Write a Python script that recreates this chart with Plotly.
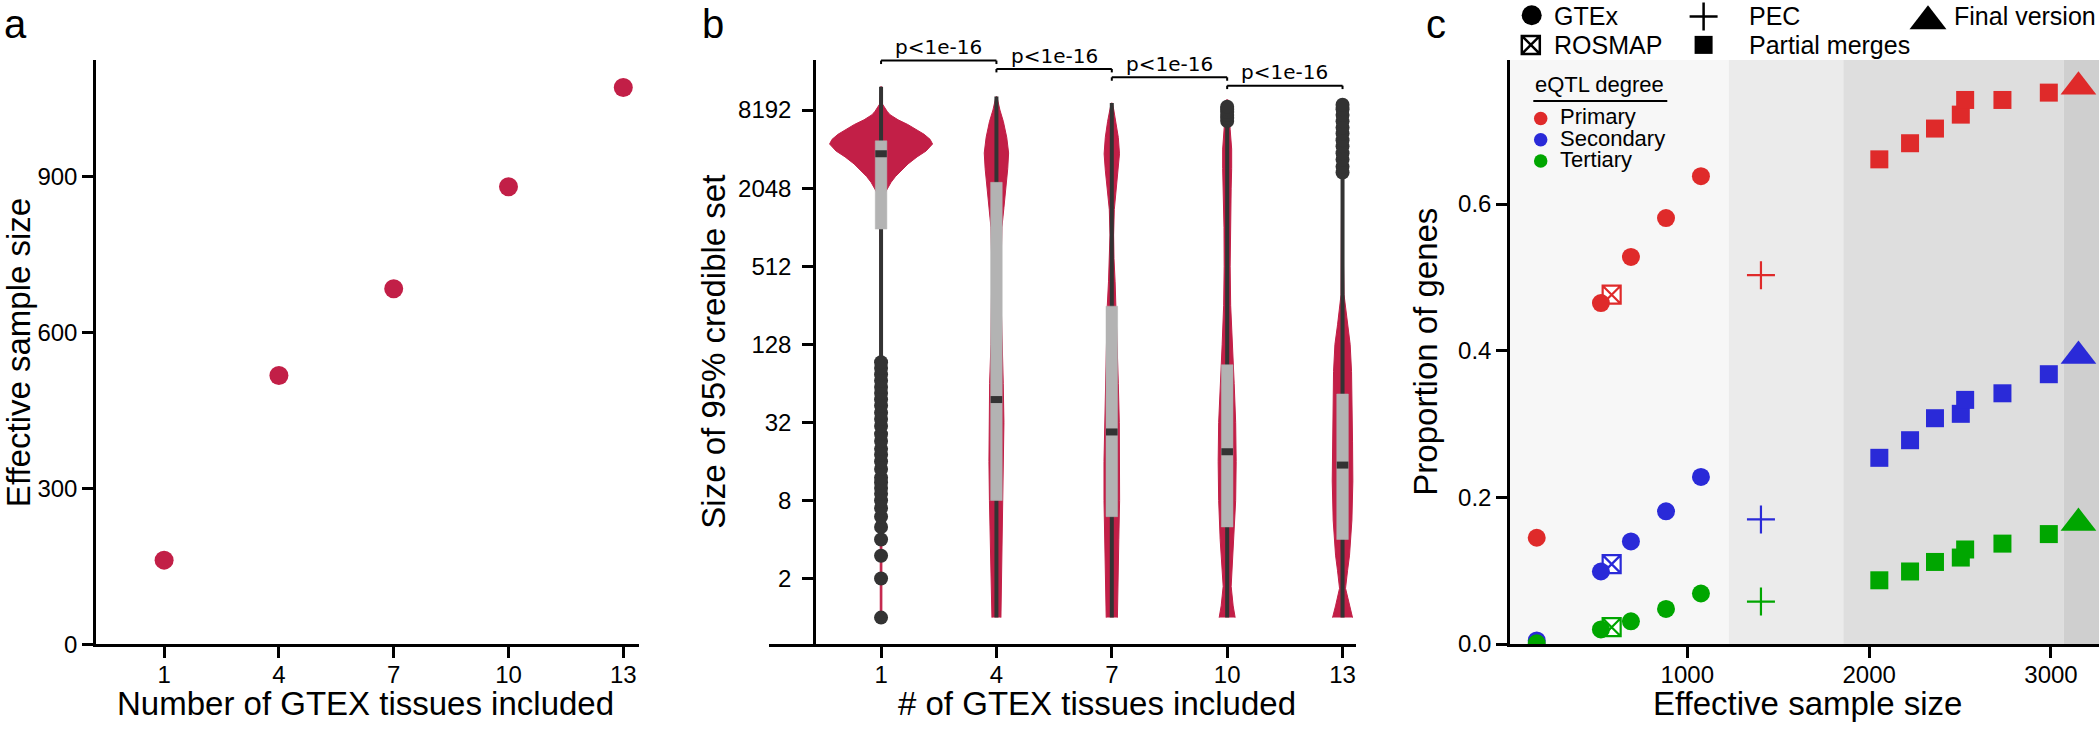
import plotly.graph_objects as go

W, H = 2100, 734

# ---------------- data ----------------
# panel a
tissue_counts = [1, 4, 7, 10, 13]
effective_n = [162, 517, 684, 880, 1071]

# panel b : violin outlines (log2 of credible-set size, half width in tissue-axis units)
violin_log2_levels = [
    [0, 2, 4, 6, 8, 9.5, 10.3, 10.7, 10.9, 11.0, 11.15, 11.3, 11.45, 11.62, 11.8, 11.95,
     12.13, 12.25, 12.38, 12.5, 12.63, 12.75, 12.88, 12.97, 13.05, 13.15, 13.6],
    [0, 0.5, 1, 2, 3, 4, 5, 6, 7, 8, 9, 10, 10.5, 11, 11.5, 11.9, 12.3, 12.7, 13.0, 13.34],
    [0, 1, 2, 3, 4, 5, 6, 7, 8, 8.6, 9.2, 9.8, 10.45, 11.04, 11.46, 11.88, 12.3, 12.71, 13.0, 13.18],
    [0, 0.3, 0.8, 1.3, 2, 3, 4, 5, 6, 7, 8, 9, 10, 11, 11.5, 12, 12.5, 13.26],
    [0, 0.3, 0.75, 1.2, 1.6, 2.5, 3.5, 4.5, 5.5, 6.3, 7, 7.5, 8.27, 9, 10, 11, 12, 13.2],
]
violin_halfwidth = [
    [0.021, 0.021, 0.021, 0.021, 0.023, 0.026, 0.042, 0.068, 0.117, 0.169, 0.26, 0.377, 0.52,
     0.702, 0.936, 1.17, 1.339, 1.274, 1.118, 0.91, 0.694, 0.442, 0.234, 0.156, 0.096, 0.039, 0.008],
    [0.117, 0.125, 0.135, 0.161, 0.182, 0.195, 0.195, 0.177, 0.143, 0.125, 0.12, 0.143, 0.195,
     0.247, 0.294, 0.317, 0.268, 0.182, 0.091, 0.013],
    [0.146, 0.156, 0.182, 0.203, 0.203, 0.195, 0.169, 0.143, 0.117, 0.086, 0.057, 0.047, 0.065,
     0.122, 0.169, 0.2, 0.169, 0.109, 0.052, 0.013],
    [0.208, 0.156, 0.104, 0.13, 0.182, 0.221, 0.234, 0.221, 0.182, 0.13, 0.091, 0.078, 0.083,
     0.104, 0.117, 0.117, 0.078, 0.026],
    [0.26, 0.182, 0.078, 0.13, 0.182, 0.244, 0.268, 0.26, 0.247, 0.234, 0.198, 0.13, 0.039,
     0.026, 0.026, 0.021, 0.021, 0.013],
]
box_q1 = [990, 8, 6, 5, 4]
box_median = [3770, 48, 27, 19, 15]
box_q3 = [4740, 2270, 252, 89, 53]
whisker_low = [96, 1, 1, 1, 1]
whisker_high = [12400, 10400, 9300, 6650, 2600]
outliers_1 = [1, 2, 3, 4, 5, 6, 7, 8, 9, 10, 11, 12, 14, 16, 18, 20, 23, 26, 30, 34, 38, 43,
              48, 54, 60, 67, 75, 84, 93]
outliers_10 = [6750, 7100, 7500, 7900, 8300, 8700]
outliers_13 = [2700, 3000, 3400, 3800, 4300, 4800, 5400, 6000, 6700, 7500, 8300, 9000]
pvalue_labels = ["p<1e-16", "p<1e-16", "p<1e-16", "p<1e-16"]

# panel c
degrees = ["Primary", "Secondary", "Tertiary"]
gtex_n = [172, 525, 690, 883, 1075]
gtex_prop = {
    "Primary": [0.145, 0.465, 0.528, 0.581, 0.638],
    "Secondary": [0.005, 0.099, 0.140, 0.181, 0.228],
    "Tertiary": [0.001, 0.020, 0.031, 0.048, 0.069],
}
rosmap_n = [584]
rosmap_prop = {"Primary": [0.4765], "Secondary": [0.109], "Tertiary": [0.023]}
pec_n = [1405]
pec_prop = {"Primary": [0.503], "Secondary": [0.170], "Tertiary": [0.058]}
merge_n = [2056, 2225, 2362, 2504, 2528, 2733, 2988]
merge_prop = {
    "Primary": [0.661, 0.683, 0.703, 0.722, 0.742, 0.742, 0.752],
    "Secondary": [0.254, 0.278, 0.308, 0.314, 0.333, 0.342, 0.368],
    "Tertiary": [0.087, 0.099, 0.112, 0.118, 0.129, 0.137, 0.150],
}
final_n = [3151]
final_prop = {"Primary": [0.760], "Secondary": [0.393], "Tertiary": [0.165]}
stage_edges = [1229, 1858, 3071]

# ---------------- style ----------------
FONT = "Liberation Sans, Arial, Helvetica, sans-serif"
CRIMSON = "#c21f47"
DARK = "#333333"
BOXGRAY = "#b3b3b3"
DEG_COLORS = {"Primary": "#df2a2a", "Secondary": "#2a2ad8", "Tertiary": "#00a600"}
STAGE_FILLS = ["#f7f7f7", "#ebebeb", "#dedede", "#cfcfcf"]


def fx(p):
    return p / W


def fy(p):
    return 1 - p / H


# subplot pixel boxes
A = dict(x0=96, x1=638.6, y0=61, y1=656)
B = dict(x0=769, x1=1356, y0=60.7, y1=656)
C = dict(x0=1510, x1=2099, y0=61, y1=655.7)

xa_range = [-0.78, 13.4]
ya_range = [0, 1124]
xb_range = [-1.914, 13.35]
yb_range = [-0.2064, 4.3021]  # log10
xc_range = [25, 3264]
yc_range = [0, 0.7966]

b_px_per_unit = (B["x1"] - B["x0"]) / (xb_range[1] - xb_range[0])
BOX_HALF = 5.8 / b_px_per_unit

fig = go.Figure()

# ---------------- panel a ----------------
fig.add_trace(go.Scatter(x=tissue_counts, y=effective_n, mode="markers",
                         marker=dict(size=19, color=CRIMSON, line=dict(width=0)),
                         xaxis="x", yaxis="y", showlegend=False, hoverinfo="x+y"))

# ---------------- panel b ----------------
for i, c in enumerate(tissue_counts):
    ys = [2 ** l for l in violin_log2_levels[i]]
    xr = [c + d for d in violin_halfwidth[i]]
    xl = [c - d for d in violin_halfwidth[i]]
    fig.add_trace(go.Scatter(x=xr + xl[::-1], y=ys + ys[::-1], mode="lines", fill="toself",
                             fillcolor=CRIMSON, line=dict(color=CRIMSON, width=1),
                             xaxis="x2", yaxis="y2", showlegend=False, hoverinfo="skip"))
for i, c in enumerate(tissue_counts):
    fig.add_trace(go.Scatter(x=[c, c], y=[whisker_low[i], whisker_high[i]], mode="lines",
                             line=dict(color=DARK, width=4), xaxis="x2", yaxis="y2",
                             showlegend=False, hoverinfo="skip"))
for i, c in enumerate(tissue_counts):
    fig.add_trace(go.Scatter(x=[c - BOX_HALF, c + BOX_HALF, c + BOX_HALF, c - BOX_HALF, c - BOX_HALF],
                             y=[box_q1[i], box_q1[i], box_q3[i], box_q3[i], box_q1[i]],
                             mode="lines", fill="toself", fillcolor=BOXGRAY,
                             line=dict(color=BOXGRAY, width=0.5), xaxis="x2", yaxis="y2",
                             showlegend=False, hoverinfo="skip"))
    fig.add_trace(go.Scatter(x=[c - BOX_HALF, c + BOX_HALF], y=[box_median[i], box_median[i]],
                             mode="lines", line=dict(color=DARK, width=7), xaxis="x2", yaxis="y2",
                             showlegend=False, hoverinfo="skip"))
outlier_sets = [(tissue_counts[0], outliers_1), (tissue_counts[3], outliers_10),
                (tissue_counts[4], outliers_13)]
for c, vals in outlier_sets:
    fig.add_trace(go.Scatter(x=[c] * len(vals), y=vals, mode="markers",
                             marker=dict(size=14, color=DARK, line=dict(width=0)),
                             xaxis="x2", yaxis="y2", showlegend=False, cliponaxis=False))

shapes = []
annotations = []

# significance brackets
for k, lab in enumerate(pvalue_labels):
    xa_, xb_ = tissue_counts[k], tissue_counts[k + 1]
    yb = 61.7 + 8.5 * k
    for (x0, y0, x1, y1) in [(xa_, yb, xb_, yb), (xa_, yb, xa_, yb + 3.5), (xb_, yb, xb_, yb + 3.5)]:
        shapes.append(dict(type="line", xref="x2", yref="paper", x0=x0, x1=x1,
                           y0=fy(y0), y1=fy(y1), line=dict(color="black", width=2)))
    annotations.append(dict(text=lab, xref="x2", yref="paper", x=(xa_ + xb_) / 2,
                            y=fy(yb - 13.4), xanchor="center", yanchor="middle", showarrow=False,
                            font=dict(family="DejaVu Sans, sans-serif", size=20, color="black")))

# ---------------- panel c ----------------
edges = [xc_range[0]] + stage_edges + [xc_range[1]]
for k in range(4):
    shapes.append(dict(type="rect", xref="x3", yref="y3 domain", x0=edges[k], x1=edges[k + 1],
                       y0=0, y1=1, fillcolor=STAGE_FILLS[k], line=dict(width=0), layer="below"))

for d in degrees:
    col = DEG_COLORS[d]
    fig.add_trace(go.Scatter(x=rosmap_n, y=rosmap_prop[d], mode="markers",
                             marker=dict(symbol="square-x", size=18, color="white",
                                         line=dict(color=col, width=2.2)),
                             xaxis="x3", yaxis="y3", showlegend=False))
    fig.add_trace(go.Scatter(x=gtex_n, y=gtex_prop[d], mode="markers",
                             marker=dict(symbol="circle", size=18, color=col, line=dict(width=0)),
                             xaxis="x3", yaxis="y3", showlegend=False))
    fig.add_trace(go.Scatter(x=pec_n, y=pec_prop[d], mode="markers",
                             marker=dict(symbol="cross-thin-open", size=20, color=col,
                                         line=dict(color=col, width=2.2)),
                             xaxis="x3", yaxis="y3", showlegend=False))
    fig.add_trace(go.Scatter(x=merge_n, y=merge_prop[d], mode="markers",
                             marker=dict(symbol="square", size=18, color=col, line=dict(width=0)),
                             xaxis="x3", yaxis="y3", showlegend=False))
    fig.add_trace(go.Scatter(x=final_n, y=final_prop[d], mode="markers",
                             marker=dict(symbol="triangle-up", size=31, color=col, line=dict(width=0)),
                             xaxis="x3", yaxis="y3", showlegend=False, cliponaxis=False))

# legend glyphs (pixel overlay axes)
legend_glyphs = [
    (1531.7, 15.5, dict(symbol="circle", size=20, color="black", line=dict(width=0))),
    (1530.8, 45.7, dict(symbol="square-x", size=18, color="white", line=dict(color="black", width=2.5))),
    (1703.6, 16.7, dict(symbol="cross-thin-open", size=20, color="black", line=dict(color="black", width=2.5))),
    (1703.6, 45.7, dict(symbol="square", size=18, color="black", line=dict(width=0))),
    (1928.0, 21.7, dict(symbol="triangle-up", size=32, color="black", line=dict(width=0))),
]
for gx, gy, mk in legend_glyphs:
    fig.add_trace(go.Scatter(x=[gx], y=[gy], mode="markers", marker=mk, xaxis="x4", yaxis="y4",
                             showlegend=False, cliponaxis=False, hoverinfo="skip"))
for j, d in enumerate(degrees):
    fig.add_trace(go.Scatter(x=[1540.7], y=[120.7 + 21.65 * j], mode="markers",
                             marker=dict(symbol="circle", size=13.5, color=DEG_COLORS[d], line=dict(width=0)),
                             xaxis="x4", yaxis="y4", showlegend=False, cliponaxis=False, hoverinfo="skip"))


def ann(text, x, y, size, xanchor="center", angle=0, family=FONT, yanchor="middle"):
    annotations.append(dict(text=text, xref="paper", yref="paper", x=fx(x), y=fy(y),
                            xanchor=xanchor, yanchor=yanchor, showarrow=False, textangle=angle,
                            font=dict(family=family, size=size, color="black")))


# top legend text
ann("GTEx", 1551.8, 16, 25, "left")
ann("ROSMAP", 1551.8, 46, 25, "left")
ann("PEC", 1747.3, 16, 25, "left")
ann("Partial merges", 1747.3, 46, 25, "left")
ann("Final version", 2098, 16, 25, "right")
# inner legend
ann("eQTL degree", 1533.3, 86, 22, "left")
shapes.append(dict(type="line", xref="paper", yref="paper", x0=fx(1533.3), x1=fx(1667.3),
                   y0=fy(102.7), y1=fy(102.7), line=dict(color="black", width=2)))
for j, d in enumerate(degrees):
    ann(d, 1558.3, 119 + 21.65 * j, 22, "left")

# axis titles
ann("Number of GTEX tissues included", 365.5, 716.5, 33)
ann("Effective sample size", 18, 359.5, 33, angle=-90)
ann("# of GTEX tissues included", 1097, 716.5, 33)
ann("Size of 95% credible set", 714, 358, 33, angle=-90)
ann("Effective sample size", 1807, 716.5, 33)
ann("Proportion of genes", 1426, 358, 33, angle=-90)

# panel letters
ann("a", 2, 0, 40, "left", yanchor="top")
ann("b", 700, 0, 40, "left", yanchor="top")
ann("c", 1424, 0, 40, "left", yanchor="top")

axis_common = dict(showline=True, linecolor="black", linewidth=2.5, ticks="outside", ticklen=11,
                   tickwidth=2.5, tickcolor="black", showgrid=False, zeroline=False,
                   tickfont=dict(family=FONT, size=24, color="black"), fixedrange=True)

fig.update_layout(
    width=W, height=H, margin=dict(l=0, r=0, t=0, b=0),
    paper_bgcolor="white", plot_bgcolor="rgba(0,0,0,0)",
    font=dict(family=FONT, color="black"),
    showlegend=False,
    xaxis=dict(domain=[fx(A["x0"]), fx(A["x1"])], range=xa_range, tickvals=tissue_counts,
               anchor="y", ticklabelstandoff=-4, **axis_common),
    yaxis=dict(domain=[fy(A["y1"]), fy(A["y0"])], range=ya_range, tickvals=[0, 300, 600, 900],
               anchor="x", **axis_common),
    xaxis2=dict(domain=[fx(B["x0"]), fx(B["x1"])], range=xb_range, tickvals=tissue_counts,
                anchor="y2", ticklabelstandoff=-4, **axis_common),
    yaxis2=dict(domain=[fy(B["y1"]), fy(B["y0"])], type="log", range=yb_range,
                tickvals=[2, 8, 32, 128, 512, 2048, 8192], ticktext=["2", "8", "32", "128", "512", "2048", "8192"],
                anchor="free", position=fx(814), ticklabelstandoff=6, **axis_common),
    xaxis3=dict(domain=[fx(C["x0"]), fx(C["x1"])], range=xc_range, tickvals=[1000, 2000, 3000],
                anchor="y3", ticklabelstandoff=-4, **axis_common),
    yaxis3=dict(domain=[fy(C["y1"]), fy(C["y0"])], range=yc_range, tickvals=[0, 0.2, 0.4, 0.6],
                tickformat=".1f", anchor="x3", **axis_common),
    xaxis4=dict(domain=[0, 1], range=[0, W], visible=False, fixedrange=True, anchor="y4"),
    yaxis4=dict(domain=[0, 1], range=[H, 0], visible=False, fixedrange=True, anchor="x4"),
    shapes=shapes,
    annotations=annotations,
)

fig.write_html("out.html", config={"displayModeBar": False},
               post_script="document.body.style.margin='0';document.body.style.overflow='hidden';")
